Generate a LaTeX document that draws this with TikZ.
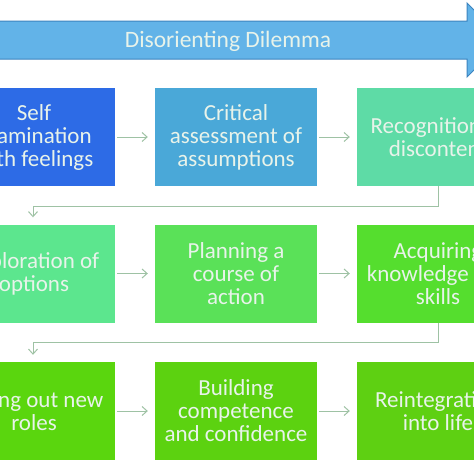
\documentclass[tikz,border=0pt]{standalone}
\usepackage{fontspec}
\setmainfont{Carlito}
\usetikzlibrary{arrows.meta,calc}
\definecolor{cA}{HTML}{2D6BE6}
\definecolor{cB}{HTML}{4AA8D8}
\definecolor{cC}{HTML}{5EDBA6}
\definecolor{cD}{HTML}{5CE68E}
\definecolor{cE}{HTML}{5AE158}
\definecolor{cF}{HTML}{55DE2E}
\definecolor{cG}{HTML}{5AD60E}
\definecolor{cH}{HTML}{5CD210}
\definecolor{cI}{HTML}{5ED012}
\definecolor{bannerfill}{HTML}{62B3E8}
\definecolor{bannerline}{HTML}{3C84C0}
\definecolor{txt}{HTML}{E8F3EA}
\definecolor{conncol}{HTML}{9EC2A4}
\tikzset{
  stepbox/.style={rectangle, minimum width=162pt, minimum height=98pt, inner sep=0pt,
    align=center, text=txt,
    font=\fontsize{23pt}{23pt}\selectfont},
  conn/.style={draw=conncol, line width=1pt, -{Straight Barb[length=5pt,width=9pt]}},
}
\begin{document}
\begin{tikzpicture}[x=1pt,y=-1pt]
\useasboundingbox (0,0) rectangle (474,474);
\fill[white] (0,0) rectangle (474,474);
\clip (0,0) rectangle (474,474);
% banner
\filldraw[fill=bannerfill, draw=bannerline, line width=1pt]
  (-10,21) -- (467,21) -- (467,3) -- (504,40) -- (467,77) -- (467,59) -- (-10,59) -- cycle;
\node[text=txt, font=\fontsize{23.5pt}{25pt}\selectfont] (banner) at (228,41) {Disorienting Dilemma};
% row 1
\node[stepbox, fill=cA] (b1) at (34,137) {Self\\ examination\\ with feelings};
\node[stepbox, fill=cB] (b2) at (236,137) {Critical\\ assessment of\\ assumptions};
\node[stepbox, fill=cC] (b3) at (438,137) {Recognition of\\ discontent};
% row 2
\node[stepbox, fill=cD] (b4) at (34,273.5) {Exploration of\\ options};
\node[stepbox, fill=cE] (b5) at (236,273.5) {Planning a\\ course of\\ action};
\node[stepbox, fill=cF] (b6) at (438,273.5) {Acquiring\\ knowledge and\\ skills};
% row 3
\node[stepbox, fill=cG] (b7) at (34,411) {Trying out new\\ roles};
\node[stepbox, fill=cH] (b8) at (236,411) {Building\\ competence\\ and confidence};
\node[stepbox, fill=cI] (b9) at (438,411) {Reintegration\\ into life};
% horizontal connectors
\draw[conn, shorten <=2pt, shorten >=7pt] (b1) -- (b2);
\draw[conn, shorten <=2pt, shorten >=7pt] (b2) -- (b3);
\draw[conn, shorten <=2pt, shorten >=7pt] (b4) -- (b5);
\draw[conn, shorten <=2pt, shorten >=7pt] (b5) -- (b6);
\draw[conn, shorten <=2pt, shorten >=7pt] (b7) -- (b8);
\draw[conn, shorten <=2pt, shorten >=7pt] (b8) -- (b9);
% row-to-row connectors
\coordinate (k1) at (33,206);
\coordinate (k2) at (33,342);
\draw[conn, shorten >=7pt] (b3.south) |- (k1) -- (k1 |- b4.north);
\draw[conn, shorten >=7pt] (b6.south) |- (k2) -- (k2 |- b7.north);
\end{tikzpicture}
\end{document}
